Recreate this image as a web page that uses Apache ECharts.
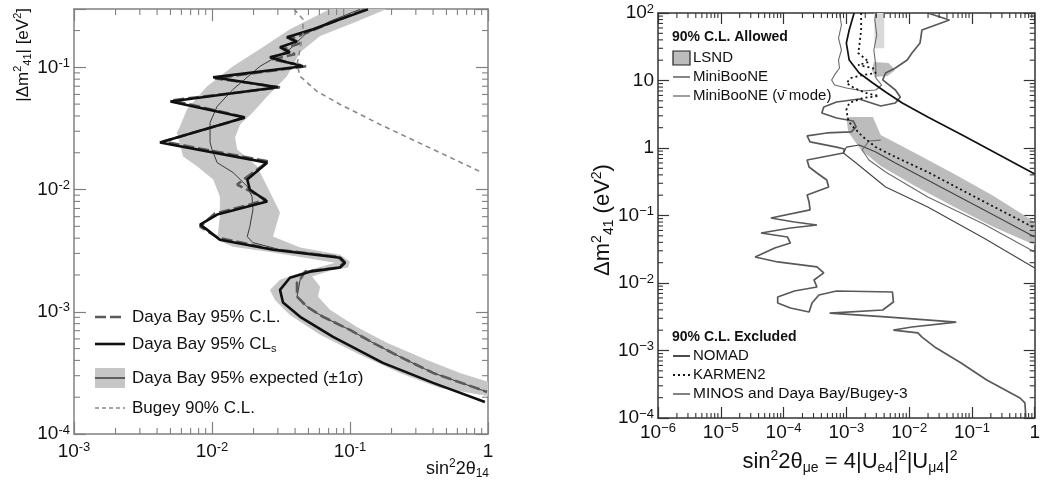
<!DOCTYPE html>
<html>
<head>
<meta charset="utf-8">
<script src="https://cdn.jsdelivr.net/npm/echarts@6/dist/echarts.min.js"></script>
<style>
html, body { margin: 0; padding: 0; background: #fff; }
#chart { width: 1043px; height: 484px; }
</style>
</head>
<body>
<div id="chart"></div>
<script>
var FONT = '"Liberation Sans", Arial, Helvetica, sans-serif';

// ---- left panel: Daya Bay, sin^2 2theta14 vs |dm41^2| ----
var dayaBayCLs = [[0.135,0.298],[0.0848,0.247],[0.054,0.205],[0.0349,0.176],[0.0413,0.163],[0.0311,0.146],[0.0367,0.133],[0.0263,0.121],[0.0349,0.110],[0.0456,0.102],[0.0102,0.0828],[0.030,0.0686],[0.0050,0.0526],[0.0173,0.0389],[0.0042,0.0243],[0.0251,0.0166],[0.018,0.0121],[0.0188,0.0100],[0.0251,0.00798],[0.0109,0.00624],[0.0082,0.00516],[0.0092,0.0047],[0.0114,0.00389],[0.0277,0.00322],[0.0848,0.00277],[0.092,0.00252],[0.0848,0.0023],[0.0513,0.00213],[0.0367,0.0019],[0.0311,0.00151],[0.0327,0.00119],[0.0435,0.00091],[0.0754,0.000624],[0.173,0.000382],[0.40,0.000262],[0.95,0.000183]];
var dayaBayCL = [[0.128,0.298],[0.0778,0.238],[0.0513,0.197],[0.0367,0.170],[0.0435,0.157],[0.0327,0.141],[0.0399,0.128],[0.0272,0.116],[0.038,0.108],[0.048,0.102],[0.0105,0.0812],[0.0311,0.0686],[0.00513,0.0537],[0.0176,0.0389],[0.00442,0.0247],[0.0255,0.0170],[0.0152,0.0110],[0.0246,0.00828],[0.0188,0.00754],[0.0105,0.00636],[0.0082,0.00498],[0.0110,0.00404],[0.0263,0.00328],[0.0818,0.00282],[0.0905,0.00252],[0.0818,0.0023],[0.0472,0.00213],[0.0435,0.00183],[0.0413,0.00173],[0.0413,0.00133],[0.0488,0.0011],[0.0637,0.00091],[0.1,0.00071],[0.147,0.000557],[0.230,0.000428],[0.40,0.000316],[0.984,0.000221]];
var expectedMedian = [[0.118,0.298],[0.0716,0.238],[0.0472,0.186],[0.0367,0.141],[0.0223,0.102],[0.0142,0.066],[0.0109,0.0479],[0.00968,0.0354],[0.00968,0.0243],[0.0100,0.0213],[0.0109,0.0166],[0.0142,0.0138],[0.018,0.0106],[0.0195,0.00877],[0.0198,0.00686],[0.0188,0.00498],[0.018,0.00412],[0.0198,0.00368],[0.0311,0.00322],[0.0637,0.00293],[0.0848,0.00277],[0.092,0.00252],[0.0818,0.0023],[0.0472,0.00213],[0.0435,0.00183],[0.0413,0.00133],[0.0488,0.0011],[0.0637,0.00091],[0.1,0.00071],[0.147,0.000557],[0.230,0.000428],[0.40,0.000316],[0.984,0.000221]];
var expectedBandLeft = [[0.0716,0.3],[0.0367,0.205],[0.0223,0.141],[0.0142,0.102],[0.0092,0.0698],[0.00659,0.0453],[0.00586,0.0328],[0.00557,0.0293],[0.00617,0.0186],[0.00778,0.0155],[0.0102,0.0121],[0.0114,0.00877],[0.0114,0.00601],[0.0109,0.00389],[0.0142,0.00341],[0.0277,0.00305],[0.0778,0.00252],[0.0435,0.00209],[0.0311,0.00183],[0.0263,0.00151],[0.0286,0.00125],[0.0367,0.00094],[0.0607,0.00065],[0.118,0.000444],[0.230,0.000316],[0.449,0.000238],[1.0,0.000205]];
var expectedBandRight = [[0.185,0.3],[0.1,0.225],[0.0607,0.180],[0.0435,0.133],[0.0349,0.0844],[0.0251,0.0578],[0.0198,0.0428],[0.016,0.0341],[0.0147,0.0267],[0.0152,0.0213],[0.0212,0.0155],[0.0251,0.0106],[0.0311,0.00648],[0.0277,0.00412],[0.0435,0.00335],[0.0848,0.00293],[0.1,0.00257],[0.0968,0.0023],[0.0716,0.00217],[0.0531,0.00194],[0.0607,0.0016],[0.0587,0.00133],[0.0716,0.00104],[0.112,0.00075],[0.185,0.000557],[0.361,0.000404],[0.627,0.000316],[1.0,0.000267]];
var bugey90 = [[0.0393,0.3],[0.0456,0.247],[0.0456,0.186],[0.0435,0.141],[0.0413,0.106],[0.0435,0.0844],[0.0577,0.0636],[0.0848,0.0497],[0.165,0.0341],[0.40,0.0213],[0.905,0.0138]];

// ---- right panel: sin^2 2theta_mue vs dm41^2 ----
var lsndBand = [[0.001,2.88],[0.00264,2.88],[0.00352,1.56],[0.0124,0.843],[0.0523,0.412],[0.221,0.194],[1.0,0.0801],[1.0,0.0365],[0.221,0.0676],[0.0523,0.134],[0.0124,0.273],[0.00352,0.541],[0.00172,0.933],[0.00107,1.73]];
var lsndIsland = [[0.00274,18.8],[0.0047,18.2],[0.00604,14.3],[0.00453,11.7],[0.00284,11.3],[0.00255,14.3]];
var lsndTop = [[0.0028,100],[0.0040,100],[0.0040,30],[0.0028,30]];
var minibooneNu = [[1.0,0.0167],[0.154,0.0464],[0.0198,0.134],[0.00422,0.264],[0.00143,0.6],[0.000898,0.843],[0.001,1.03],[0.0016,1.11],[0.00294,0.873],[0.00604,0.6],[0.0365,0.247],[0.221,0.102],[1.0,0.048]];
var minibooneNubar = [[1.0,0.0288],[0.154,0.0748],[0.0198,0.188],[0.00422,0.44],[0.00229,0.664],[0.00178,0.933],[0.00229,1.27],[0.00352,1.31]];
var minibooneNubarHigh = [[0.000778,100],[0.000835,66.4],[0.00075,42.6],[0.000835,28.3],[0.00075,20.1],[0.000778,15.3],[0.000649,12.1],[0.000583,10.2],[0.000649,8.58],[0.001,7.74],[0.00184,6.99],[0.00294,7.23],[0.00365,8.58],[0.00294,10.9],[0.00294,17.0],[0.00274,28.3],[0.00305,47.2],[0.00284,78.8],[0.00294,100]];
var nomad = [[0.00133,100],[0.00111,56.0],[0.001,35.9],[0.00111,20.1],[0.0016,12.9],[0.00264,9.2],[0.00422,6.76],[0.00778,4.64],[0.0198,2.88],[0.075,1.51],[1.0,0.412]];
var karmen2 = [[0.00172,100],[0.00172,56.0],[0.0016,31.4],[0.00154,25.5],[0.00184,22.3],[0.00229,18.8],[0.00154,17.0],[0.00264,15.3],[0.00294,12.9],[0.00184,12.1],[0.0012,10.9],[0.001,9.2],[0.00133,7.74],[0.00205,6.53],[0.00328,5.89],[0.00184,5.51],[0.00111,4.64],[0.001,3.66],[0.00107,2.60],[0.0012,2.19],[0.00143,1.85],[0.00184,1.46],[0.00294,1.03],[0.00604,0.736],[0.0198,0.44],[0.12,0.182],[1.0,0.0653]];
var minosDayaBay = [[0.0198,100],[0.0438,78.8],[0.016,56.0],[0.0149,35.9],[0.0111,25.5],[0.00931,20.1],[0.00604,15.3],[0.00422,12.9],[0.00379,10.2],[0.00604,7.23],[0.00723,5.70],[0.00604,4.64],[0.00352,4.19],[0.0016,5.32],[0.000698,4.80],[0.000437,4.05],[0.000406,3.30],[0.000698,2.78],[0.00129,2.51],[0.00143,2.05],[0.0012,1.73],[0.000487,1.67],[0.000237,1.51],[0.000264,1.23],[0.000698,1.03],[0.000931,0.966],[0.000898,0.843],[0.000237,0.664],[0.000255,0.523],[0.00034,0.426],[0.000487,0.336],[0.000523,0.264],[0.000237,0.201],[0.000255,0.158],[0.000264,0.121],[0.0000627,0.0918],[0.0001486,0.0801],[0.00034,0.0723],[0.0001285,0.0653],[0.0000438,0.0551],[0.0001156,0.048],[0.0001285,0.0391],[0.0000723,0.033],[0.0000352,0.0243],[0.0000806,0.0205],[0.00034,0.0173],[0.000437,0.0141],[0.000305,0.0111],[0.00034,0.00873],[0.0001486,0.00761],[0.0000806,0.00621],[0.0000806,0.00506],[0.0001285,0.00426],[0.000255,0.00372],[0.000284,0.00506],[0.000365,0.00664],[0.000698,0.00761],[0.00542,0.00736],[0.00562,0.00523],[0.00379,0.00398],[0.000542,0.00359],[0.00422,0.00314],[0.0562,0.00264],[0.0111,0.00223],[0.00562,0.00201],[0.0138,0.00182],[0.016,0.00158],[0.0255,0.00113],[0.0673,0.000653],[0.172,0.000365],[0.583,0.000198],[0.698,0.000167],[0.723,0.0001]];

// ---- axis ranges and tick labels ----
var leftX = [1e-3, 1], leftY = [1e-4, 0.3];
var rightX = [1e-6, 1], rightY = [1e-4, 100];
var leftXTicks = [1e-3, 1e-2, 1e-1, 1];
var leftXLabels = [['10','-3'],['10','-2'],['10','-1'],['1','']];
var leftYTicks = [1e-4, 1e-3, 1e-2, 1e-1];
var leftYLabels = [['10','-4'],['10','-3'],['10','-2'],['10','-1']];
var rightXTicks = [1e-6, 1e-5, 1e-4, 1e-3, 1e-2, 1e-1, 1];
var rightXLabels = [['10','\u22126'],['10','\u22125'],['10','\u22124'],['10','\u22123'],['10','\u22122'],['10','\u22121'],['1','']];
var rightYTicks = [1e-4, 1e-3, 1e-2, 1e-1, 1, 10, 100];
var rightYLabels = [['10','\u22124'],['10','\u22123'],['10','\u22122'],['10','\u22121'],['1',''],['10',''],['10','2']];

function labeler(ticks, labels) {
  return function (v) {
    for (var i = 0; i < ticks.length; i++) {
      if (Math.abs(Math.log10(v) - Math.log10(ticks[i])) < 1e-6) {
        var l = labels[i];
        return '{b|' + l[0] + '}' + (l[1] ? '{s|' + l[1] + '}' : '');
      }
    }
    return '';
  };
}

var richAxis = {
  b: { fontFamily: FONT, fontSize: 19, color: '#111', lineHeight: 21 },
  s: { fontFamily: FONT, fontSize: 13, color: '#111', lineHeight: 9, verticalAlign: 'top' }
};

function axis(grid, pos, range, color, len, ticks, labels, margin) {
  return {
    gridIndex: grid, type: 'log', position: pos, min: range[0], max: range[1],
    axisLine: { show: true, onZero: false, lineStyle: { color: color, width: 1.5 } },
    axisTick: { show: true, inside: true, length: len, lineStyle: { color: color, width: 1.2 } },
    axisLabel: ticks ? { show: true, margin: margin, formatter: labeler(ticks, labels), rich: richAxis } : { show: false },
    splitLine: { show: false }
  };
}

// minor ticks at 2..9 x 10^k on all four sides of a frame
function minorValues(r) {
  var out = [];
  for (var k = Math.floor(Math.log10(r[0])); k <= Math.ceil(Math.log10(r[1])); k++) {
    for (var m = 2; m <= 9; m++) {
      var v = Number((m * Math.pow(10, k)).toPrecision(6));
      if (v > r[0] && v < r[1]) out.push(v);
    }
  }
  return out;
}

function minorTicks(xi, yi, xr, yr, color, len) {
  var items = [];
  minorValues(xr).forEach(function (v) { items.push([v, yr[0], 0]); });
  minorValues(yr).forEach(function (v) { items.push([xr[0], v, 1]); });
  return {
    type: 'custom', xAxisIndex: xi, yAxisIndex: yi, silent: true, z: 6, clip: false,
    data: items,
    renderItem: function (params, api) {
      var it = items[params.dataIndex];
      var s = { stroke: color, lineWidth: 1.1 };
      var a, b;
      if (it[2] === 0) {
        a = api.coord([it[0], yr[0]]); b = api.coord([it[0], yr[1]]);
        return { type: 'group', children: [
          { type: 'line', shape: { x1: a[0], y1: a[1], x2: a[0], y2: a[1] - len }, style: s },
          { type: 'line', shape: { x1: b[0], y1: b[1], x2: b[0], y2: b[1] + len }, style: s }
        ] };
      }
      a = api.coord([xr[0], it[1]]); b = api.coord([xr[1], it[1]]);
      return { type: 'group', children: [
        { type: 'line', shape: { x1: a[0], y1: a[1], x2: a[0] + len, y2: a[1] }, style: s },
        { type: 'line', shape: { x1: b[0], y1: b[1], x2: b[0] - len, y2: b[1] }, style: s }
      ] };
    }
  };
}

function polygon(name, pts, xi, yi, fill, z) {
  return {
    type: 'custom', name: name, xAxisIndex: xi, yAxisIndex: yi, clip: true, silent: true, z: z,
    data: [pts[0]],
    renderItem: function (params, api) {
      return {
        type: 'polygon',
        shape: { points: pts.map(function (p) { return api.coord(p); }) },
        style: { fill: fill, lineWidth: 0 }
      };
    }
  };
}

function line(name, pts, xi, yi, color, width, dash, z) {
  return {
    type: 'line', name: name, xAxisIndex: xi, yAxisIndex: yi, data: pts,
    showSymbol: false, symbol: 'none', clip: true, z: z, silent: true,
    lineStyle: { color: color, width: width, type: dash || 'solid' }
  };
}

function rich(size) {
  var small = Math.round(size * 0.64);
  return {
    t: { fontFamily: FONT, fontSize: size, fill: '#111', color: '#111', lineHeight: size + 4 },
    sup: { fontFamily: FONT, fontSize: small, fill: '#111', color: '#111', lineHeight: Math.round(size * 0.55), verticalAlign: 'top' },
    sub: { fontFamily: FONT, fontSize: small, fill: '#111', color: '#111', lineHeight: Math.round(size * 0.55), verticalAlign: 'bottom' }
  };
}

function text(x, y, str, size, opts) {
  opts = opts || {};
  return {
    type: 'text', x: x, y: y, rotation: opts.rotation || 0, z: 20,
    style: {
      text: str, rich: rich(size), fill: '#111',
      font: (opts.bold ? 'bold ' : '') + size + 'px ' + FONT,
      align: opts.align || 'left', verticalAlign: 'middle'
    }
  };
}

function seg(x1, y1, x2, y2, color, width, dash) {
  return { type: 'line', z: 20, shape: { x1: x1, y1: y1, x2: x2, y2: y2 },
    style: { stroke: color, lineWidth: width, lineDash: dash || null } };
}

var LG = '#808080', RG = '#333333';
var bandPolygon = expectedBandLeft.concat(expectedBandRight.slice().reverse());

var chart = echarts.init(document.getElementById('chart'));
chart.setOption({
  animation: false,
  backgroundColor: '#ffffff',
  grid: [
    { left: 74, top: 9, width: 414, height: 425 },
    { left: 658, top: 13, width: 383, height: 405 }
  ],
  xAxis: [
    axis(0, 'bottom', leftX, LG, 12, leftXTicks, leftXLabels, 7),
    axis(0, 'top', leftX, LG, 12),
    axis(1, 'bottom', rightX, RG, 11, rightXTicks, rightXLabels, 4),
    axis(1, 'top', rightX, RG, 11)
  ],
  yAxis: [
    axis(0, 'left', leftY, LG, 12, leftYTicks, leftYLabels, 4),
    axis(0, 'right', leftY, LG, 12),
    axis(1, 'left', rightY, RG, 11, rightYTicks, rightYLabels, 4),
    axis(1, 'right', rightY, RG, 11)
  ],
  series: [
    polygon('Daya Bay 95% expected band', bandPolygon, 0, 0, '#c6c6c6', 1),
    line('Daya Bay 95% expected', expectedMedian, 0, 0, '#3a3a3a', 1, 'solid', 2),
    line('Daya Bay 95% C.L.', dayaBayCL, 0, 0, '#5a5a5a', 2.6, [11, 4], 3),
    line('Daya Bay 95% CLs', dayaBayCLs, 0, 0, '#101010', 2.6, 'solid', 4),
    line('Bugey 90% C.L.', bugey90, 0, 0, '#8a8a8a', 1.6, [5, 4], 4),
    minorTicks(0, 0, leftX, leftY, LG, 6),

    polygon('LSND', lsndBand, 2, 2, '#bcbcbc', 1),
    polygon('LSND island', lsndIsland, 2, 2, '#bcbcbc', 1),
    polygon('LSND top', lsndTop, 2, 2, '#d9d9d9', 1),
    line('MINOS and Daya Bay/Bugey-3', minosDayaBay, 2, 2, '#595959', 1.7, 'solid', 2),
    line('MiniBooNE', minibooneNu, 2, 2, '#444444', 1.1, 'solid', 3),
    line('MiniBooNE (nubar)', minibooneNubar, 2, 2, '#6a6a6a', 1.1, 'solid', 3),
    line('MiniBooNE (nubar) high', minibooneNubarHigh, 2, 2, '#6a6a6a', 1.1, 'solid', 3),
    line('NOMAD', nomad, 2, 2, '#111111', 1.7, 'solid', 4),
    line('KARMEN2', karmen2, 2, 2, '#111111', 1.8, [2, 3], 4),
    minorTicks(2, 2, rightX, rightY, RG, 5)
  ],
  graphic: [
    // axis titles
    text(23, 8, '{t|\u007C\u0394m}{sup|2}{sub|41}{t|\u007C [eV}{sup|2}{t|]}', 17, { rotation: Math.PI / 2, align: 'right' }),
    text(489, 469, '{t|sin}{sup|2}{t|2\u03b8}{sub|14}', 18, { align: 'right' }),
    text(603, 220, '{t|\u0394m}{sup|2}{sub|41}{t| (eV}{sup|2}{t|)}', 22, { rotation: Math.PI / 2, align: 'center' }),
    text(850, 462, '{t|sin}{sup|2}{t|2\u03b8}{sub|\u03bce}{t| = 4\u007CU}{sub|e4}{t|\u007C}{sup|2}{t|\u007CU}{sub|\u03bc4}{t|\u007C}{sup|2}', 22, { align: 'center' }),

    // left legend
    seg(95, 317, 125, 317, '#5a5a5a', 2.6, [11, 4]),
    text(132, 317, '{t|Daya Bay 95% C.L.}', 17),
    seg(95, 344, 125, 344, '#101010', 2.6),
    text(132, 344, '{t|Daya Bay 95% CL}{sub|s}', 17),
    { type: 'rect', z: 20, shape: { x: 95, y: 368, width: 30, height: 20 }, style: { fill: '#c6c6c6' } },
    seg(95, 378, 125, 378, '#3a3a3a', 1.5),
    text(132, 378, '{t|Daya Bay 95% expected (\u00b11\u03c3)}', 17),
    seg(95, 408, 125, 408, '#8a8a8a', 1.4, [4, 3]),
    text(132, 408, '{t|Bugey 90% C.L.}', 17),

    // right legend
    text(672, 37, '90% C.L. Allowed', 14, { bold: true }),
    { type: 'rect', z: 20, shape: { x: 673, y: 51, width: 17, height: 14 }, style: { fill: '#bcbcbc', stroke: '#222', lineWidth: 1.2 } },
    text(693, 58, '{t|LSND}', 15),
    seg(673, 77, 690, 77, '#444444', 1.3),
    text(693, 77, '{t|MiniBooNE}', 15),
    seg(673, 96, 690, 96, '#6a6a6a', 1.3),
    text(693, 96, '{t|MiniBooNE (\u03bd\u0304 mode)}', 15),
    text(672, 337, '90% C.L. Excluded', 14, { bold: true }),
    seg(673, 356, 690, 356, '#111111', 1.5),
    text(693, 356, '{t|NOMAD}', 15),
    seg(673, 375, 690, 375, '#111111', 1.8, [2, 3]),
    text(693, 375, '{t|KARMEN2}', 15),
    seg(673, 394, 690, 394, '#595959', 1.5),
    text(693, 394, '{t|MINOS and Daya Bay/Bugey-3}', 15.5)
  ]
});
</script>
</body>
</html>
